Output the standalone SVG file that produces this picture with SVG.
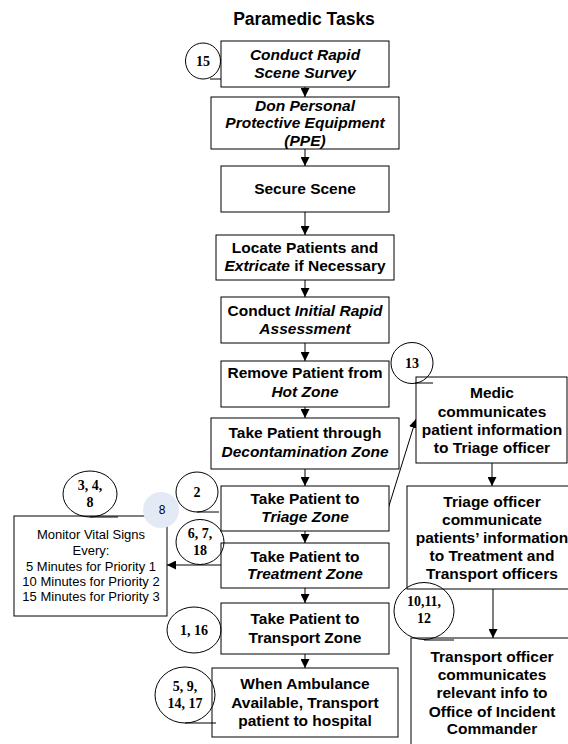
<svg xmlns="http://www.w3.org/2000/svg" width="568" height="744" viewBox="0 0 568 744">
<style>
.box{fill:#fff;stroke:#000;stroke-width:1}
.t{font-family:"Liberation Sans",Arial,sans-serif;font-weight:bold;font-size:15.5px;text-anchor:middle;fill:#000}
.i{font-style:italic}
.c{fill:none;stroke:#000;stroke-width:1}
.num{font-family:"Liberation Serif","Times New Roman",serif;font-weight:bold;font-size:14px;text-anchor:middle;fill:#000}
.m{font-family:"Liberation Sans",Arial,sans-serif;font-size:13px;text-anchor:middle;fill:#000}
.ln{stroke:#000;stroke-width:1;fill:none}
</style>
<defs>
<marker id="ah" markerUnits="userSpaceOnUse" viewBox="0 0 10 10" refX="10" refY="5" markerWidth="9" markerHeight="9" orient="auto">
<path d="M0,0 L10,5 L0,10 z" fill="#000"/>
</marker>
</defs>
<rect width="568" height="744" fill="#fff"/>
<text x="304" y="25" class="t" style="font-size:17.5px">Paramedic Tasks</text>

<g id="connectors">
<line class="ln" x1="305" y1="87" x2="305" y2="97" marker-end="url(#ah)"/>
<line class="ln" x1="305" y1="149" x2="305" y2="166" marker-end="url(#ah)"/>
<line class="ln" x1="305" y1="212" x2="305" y2="235" marker-end="url(#ah)"/>
<line class="ln" x1="305" y1="280" x2="305" y2="297" marker-end="url(#ah)"/>
<line class="ln" x1="305" y1="343" x2="305" y2="361" marker-end="url(#ah)"/>
<line class="ln" x1="305" y1="407" x2="305" y2="418" marker-end="url(#ah)"/>
<line class="ln" x1="305" y1="469" x2="305" y2="486" marker-end="url(#ah)"/>
<line class="ln" x1="305" y1="531" x2="305" y2="543" marker-end="url(#ah)"/>
<line class="ln" x1="305" y1="588" x2="305" y2="603" marker-end="url(#ah)"/>
<line class="ln" x1="305" y1="654" x2="305" y2="668" marker-end="url(#ah)"/>
<line class="ln" x1="221" y1="565" x2="167" y2="565" marker-end="url(#ah)"/>
<line class="ln" x1="388" y1="509" x2="416" y2="419" marker-end="url(#ah)"/>
<line class="ln" x1="492" y1="463" x2="492" y2="486" marker-end="url(#ah)"/>
<line class="ln" x1="493" y1="589" x2="493" y2="638" marker-end="url(#ah)"/>
</g>

<g id="n1"><rect class="box" x="221" y="41" width="168" height="46"/>
<text class="t i" x="305" y="60">Conduct Rapid</text><text class="t i" x="305" y="78">Scene Survey</text></g>
<g id="n2"><rect class="box" x="211" y="97" width="188" height="52"/>
<text class="t i" x="305" y="111">Don Personal</text><text class="t i" x="305" y="128">Protective Equipment</text><text class="t i" x="305" y="146">(PPE)</text></g>
<g id="n3"><rect class="box" x="221" y="166" width="168" height="46"/>
<text class="t" x="305" y="194">Secure Scene</text></g>
<g id="n4"><rect class="box" x="216" y="235" width="178" height="45"/>
<text class="t" x="305" y="253">Locate Patients and</text><text class="t" x="305" y="271"><tspan class="i">Extricate</tspan> if Necessary</text></g>
<g id="n5"><rect class="box" x="221" y="297" width="168" height="46"/>
<text class="t" x="305" y="316">Conduct <tspan class="i">Initial Rapid</tspan></text><text class="t i" x="305" y="334">Assessment</text></g>
<g id="n6"><rect class="box" x="221" y="361" width="168" height="46"/>
<text class="t" x="305" y="378">Remove Patient from</text><text class="t i" x="305" y="397">Hot Zone</text></g>
<g id="n7"><rect class="box" x="211" y="418" width="188" height="51"/>
<text class="t" x="305" y="438">Take Patient through</text><text class="t i" x="305" y="457">Decontamination Zone</text></g>
<g id="n8"><rect class="box" x="221" y="486" width="168" height="45"/>
<text class="t" x="305" y="504">Take Patient to</text><text class="t i" x="305" y="522">Triage Zone</text></g>
<g id="n9"><rect class="box" x="221" y="543" width="168" height="45"/>
<text class="t" x="305" y="562">Take Patient to</text><text class="t i" x="305" y="579">Treatment Zone</text></g>
<g id="n10"><rect class="box" x="221" y="603" width="168" height="51"/>
<text class="t" x="305" y="624">Take Patient to</text><text class="t" x="305" y="643">Transport Zone</text></g>
<g id="n11"><rect class="box" x="212" y="668" width="186" height="69"/>
<text class="t" x="305" y="689">When Ambulance</text><text class="t" x="305" y="708">Available, Transport</text><text class="t" x="305" y="726">patient to hospital</text></g>

<g id="monitor"><rect class="box" x="14" y="516" width="153" height="100"/>
<text class="m" x="91" y="539">Monitor Vital Signs</text>
<text class="m" x="91" y="555">Every:</text>
<text class="m" x="91" y="571">5 Minutes for Priority 1</text>
<text class="m" x="91" y="586">10 Minutes for Priority 2</text>
<text class="m" x="91" y="601">15 Minutes for Priority 3</text></g>

<g id="medic"><rect class="box" x="416" y="377" width="151" height="86"/>
<text class="t" x="492" y="398">Medic</text><text class="t" x="492" y="417">communicates</text><text class="t" x="492" y="435">patient information</text><text class="t" x="492" y="453">to Triage officer</text></g>
<g id="triage"><rect class="box" x="407" y="486" width="166" height="103"/>
<text class="t" x="492" y="507">Triage officer</text><text class="t" x="492" y="525">communicate</text><text class="t" x="492" y="543">patients’ information</text><text class="t" x="492" y="561">to Treatment and</text><text class="t" x="492" y="579">Transport officers</text></g>
<g id="transport"><rect class="box" x="411" y="638" width="162" height="110"/>
<text class="t" x="492" y="662">Transport officer</text><text class="t" x="492" y="680">communicates</text><text class="t" x="492" y="698">relevant info to</text><text class="t" x="492" y="717">Office of Incident</text><text class="t" x="492" y="734">Commander</text></g>

<g id="c15"><ellipse class="c" cx="203" cy="61" rx="17.5" ry="18"/><line class="ln" x1="210" y1="79" x2="221" y2="79"/><text class="num" x="203" y="66">15</text></g>
<g id="c2"><ellipse class="c" cx="197" cy="492" rx="21" ry="20"/><line class="ln" x1="197" y1="512" x2="219" y2="512"/><text class="num" x="197" y="497">2</text></g>
<g id="c6"><ellipse class="c" cx="200" cy="542" rx="24" ry="22.5"/><text class="num" x="200" y="538">6, 7,</text><text class="num" x="200" y="555">18</text></g>
<g id="c1"><ellipse class="c" cx="194" cy="630" rx="27" ry="23"/><text class="num" x="194" y="635">1,  16</text></g>
<g id="c5"><ellipse class="c" cx="185" cy="695" rx="30" ry="28"/><line class="ln" x1="185" y1="723" x2="216" y2="723"/><text class="num" x="185" y="691">5, 9,</text><text class="num" x="185" y="708">14, 17</text></g>
<g id="c3"><ellipse class="c" cx="90" cy="494" rx="27" ry="23"/><line class="ln" x1="90" y1="517" x2="118" y2="517"/><text class="num" x="90" y="490">3, 4,</text><text class="num" x="90" y="507">8</text></g>
<g id="c13"><ellipse class="c" cx="412" cy="363" rx="21" ry="20.5"/><line class="ln" x1="415" y1="383" x2="433" y2="383"/><text class="num" x="412" y="368">13</text></g>
<g id="c10"><ellipse class="c" cx="424" cy="611" rx="30" ry="28.5"/><line class="ln" x1="424" y1="640" x2="454" y2="640"/><text class="num" x="424" y="606">10,11,</text><text class="num" x="424" y="623">12</text></g>

<g id="mark8"><circle cx="161" cy="510" r="18" fill="#e4eaf5"/><text class="m" x="162" y="514" style="font-size:12px">8</text></g>
</svg>
